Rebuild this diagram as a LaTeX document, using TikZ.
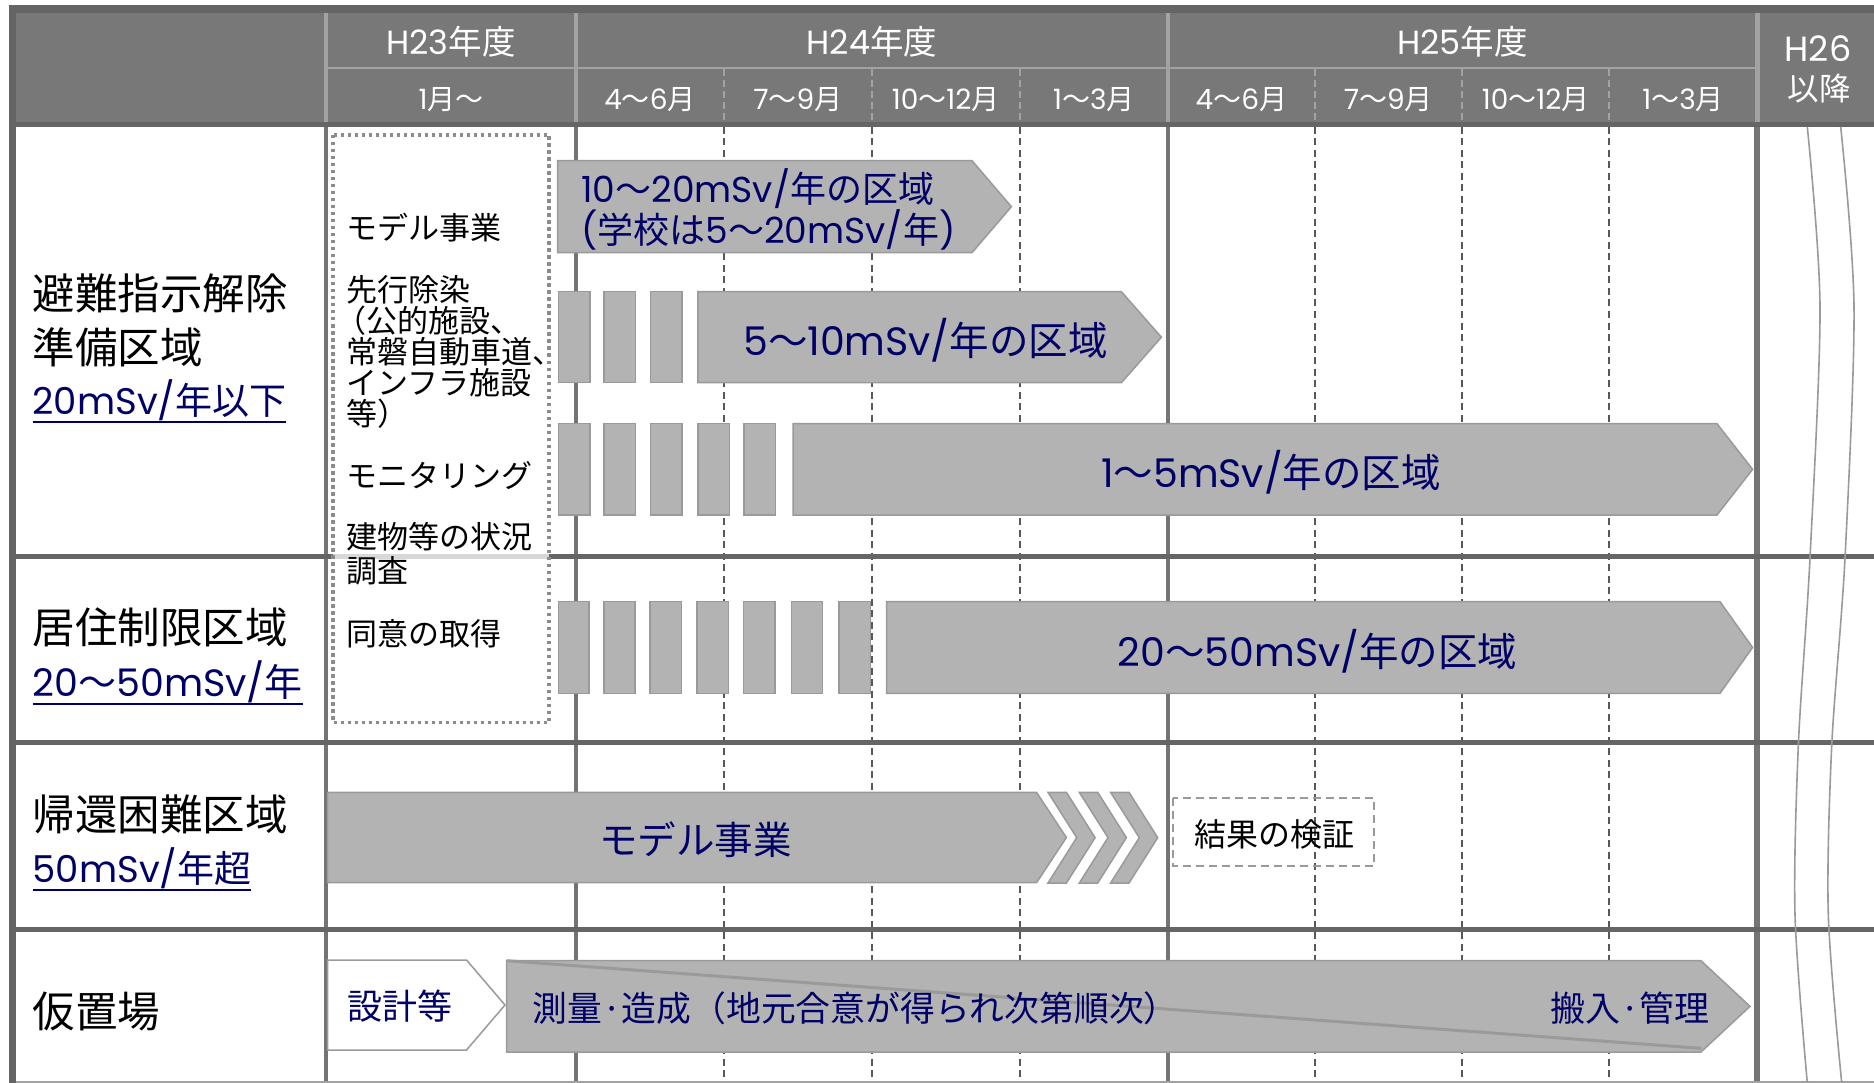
\documentclass[tikz,border=0pt]{standalone}
\usepackage{fontspec}
\setmainfont{Noto Sans CJK JP}
\newfontfamily\lat{Poppins}
\definecolor{hdr}{HTML}{787878}
\definecolor{hdrln}{HTML}{A2A2A2}
\definecolor{frm}{HTML}{656565}
\definecolor{vln}{HTML}{747474}
\definecolor{qln}{HTML}{585858}
\definecolor{afill}{HTML}{B3B3B3}
\definecolor{adraw}{HTML}{9A9A9A}
\definecolor{navy}{HTML}{000066}
\definecolor{dotc}{HTML}{8C8C8C}
\newcommand\myfs[1]{\fontsize{#1}{#1}\selectfont}
\newsavebox\mybx
\newcommand\myul[1]{\sbox\mybx{#1}\rlap{\vrule height -6.5pt depth 8.5pt width \wd\mybx}\usebox\mybx}
\newcommand\pent[6][abox]{\draw[#1] (#2,#5) -- (#3,#5) -- (#4,{(#5+#6)/2}) -- (#3,#6) -- (#2,#6) -- cycle;}
\newcommand\chev[3]{\draw[abox] (#1,#2) -- ({#1+18.4},#2) -- ({#1+47.1},{(#2+#3)/2}) -- ({#1+18.4},#3) -- (#1,#3) -- ({#1+28.7},{(#2+#3)/2}) -- cycle;}
\newcommand\blk[4]{\draw[abox] (#1,#3) rectangle (#2,#4);}
\tikzset{
  sz/.style={font=\myfs{#1}, text height=0.76*#1pt, text depth=0pt, inner sep=0pt},
  wtxt/.style={text=white},
  ntxt/.style={text=navy},
  ktxt/.style={text=black},
  abox/.style={fill=afill, draw=adraw, line width=1.5pt},
  wbox/.style={fill=white, draw=adraw, line width=1.5pt},
  qdash/.style={draw=qln, line width=2pt, dash pattern=on 7pt off 4.5pt},
  brk/.style={draw=adraw, line width=1.6pt},
}
\begin{document}
\begin{tikzpicture}[x=1pt,y=-1pt]
\useasboundingbox (0,0) rectangle (1874,1083);
\fill[white] (0,0) rectangle (1874,1083);
% header
\fill[hdr] (9,5) rectangle (1874,124);
\fill[frm] (9,5) rectangle (1874,13);
\draw[hdrln, line width=2.5pt] (326,68) -- (1757,68);
\foreach \x in {326,576,1168} \draw[hdrln, line width=4pt] (\x,13) -- (\x,122);
\draw[hdrln, line width=5pt] (1757,13) -- (1757,122);
\foreach \x in {724,871.6,1019.6,1314.8,1462,1609.4} \draw[hdrln, line width=2pt, dash pattern=on 7pt off 4pt] (\x,69.5) -- (\x,122);
% body grid
\foreach \x in {724,871.6,1019.6,1314.8,1462,1609.4} \draw[qdash] (\x,127) -- (\x,1083);
\foreach \x in {326,576,1168} \draw[vln, line width=4.5pt] (\x,124) -- (\x,1083);
\draw[vln, line width=5.5pt] (1757,124) -- (1757,1083);
\foreach \y in {124.5,556.7,742.6,929.5} \draw[frm, line width=5pt] (9,\y) -- (1874,\y);
\draw[hdrln, line width=2pt] (9,1082) -- (1874,1082);
\draw[frm, line width=6.5pt] (12.3,5) -- (12.3,1083);
% break lines in H26 column
\draw[brk] plot[smooth] coordinates {(1807.3,127) (1820,307) (1810,558) (1798.3,746) (1795,915) (1807.3,1083)};
\draw[brk] plot[smooth] coordinates {(1840.7,127) (1854,307) (1845,558) (1831.7,746) (1828.3,915) (1841.7,1083)};
% dotted box
\draw[dotc, line width=3.5pt, dash pattern=on 3.5pt off 3.5pt, fill=white, fill opacity=0.75] (333,135) rectangle (549,722.5);
% row 1 arrows
\pent{557.6}{972}{1011.4}{160.7}{252.7}
\blk{558.4}{589.9}{291.7}{382.7}
\blk{604.2}{635.7}{291.7}{382.7}
\blk{650.4}{681.9}{291.7}{382.7}
\pent{697.8}{1121.4}{1161.4}{291.7}{382.7}
\blk{558.4}{589.9}{423.7}{515}
\blk{604.2}{635.7}{423.7}{515}
\blk{650.4}{681.9}{423.7}{515}
\blk{697.8}{729.3}{423.7}{515}
\blk{744}{775.5}{423.7}{515}
\pent{793}{1717}{1752.6}{423.7}{515}
% row 2
\blk{558.4}{589}{601.7}{693.3}
\blk{603.8}{634.8}{601.7}{693.3}
\blk{650}{681.5}{601.7}{693.3}
\blk{697}{728.5}{601.7}{693.3}
\blk{743.6}{775}{601.7}{693.3}
\blk{791.4}{822.5}{601.7}{693.3}
\blk{838.9}{870.3}{601.7}{693.3}
\pent{886.7}{1720}{1752.6}{601.7}{693.3}
% row 3
\pent{327.6}{1036.5}{1066.4}{792.3}{882.7}
\chev{1048}{792.3}{883}
\chev{1079.3}{792.3}{883}
\chev{1110.6}{792.3}{883}
\draw[adraw, line width=2.2pt, dash pattern=on 8pt off 5pt] (1172.7,798.3) rectangle (1374.3,865.7);
% row 4
\pent[wbox]{327.6}{466.5}{505}{960}{1050}
\pent{506.7}{1701}{1750}{960.7}{1052}
\draw[adraw, line width=3pt] (506.7,960.7) -- (1701,1048.3);
% header texts
\node[wtxt, sz=33.5] (y23) at (451,42) {{\lat H23}年度};
\node[wtxt, sz=33.5] (y24) at (872,42) {{\lat H24}年度};
\node[wtxt, sz=33.5] (y25) at (1462.5,42) {{\lat H25}年度};
\node[wtxt, sz=35] (y26) at (1818,48) {\lat H26};
\node[wtxt, sz=31.5] (y26b) at (1819,89) {以降};
\node[wtxt, sz=28] (q0) at (451,99) {{\lat 1}月〜};
\node[wtxt, sz=28] (q1) at (650,99) {{\lat 4}〜{\lat 6}月};
\node[wtxt, sz=28] (q2) at (797.8,99) {{\lat 7}〜{\lat 9}月};
\node[wtxt, sz=28] (q3) at (945.6,99) {{\lat 10}〜{\lat 12}月};
\node[wtxt, sz=28] (q4) at (1093.8,99) {{\lat 1}〜{\lat 3}月};
\node[wtxt, sz=28] (q5) at (1241.4,99) {{\lat 4}〜{\lat 6}月};
\node[wtxt, sz=28] (q6) at (1388.4,99) {{\lat 7}〜{\lat 9}月};
\node[wtxt, sz=28] (q7) at (1535.7,99) {{\lat 10}〜{\lat 12}月};
\node[wtxt, sz=28] (q8) at (1683.2,99) {{\lat 1}〜{\lat 3}月};
% label column
\node[ktxt, sz=42.5, anchor=west] (l1a) at (32.5,293) {避難指示解除};
\node[ktxt, sz=42.5, anchor=west] (l1b) at (32.5,347) {準備区域};
\node[ntxt, sz=37, anchor=west] (l1c) at (32.5,400) {\myul{{\lat 20mSv/}年以下}};
\node[ktxt, sz=42.5, anchor=west] (l2a) at (32.5,627) {居住制限区域};
\node[ntxt, sz=38, anchor=west] (l2b) at (32.5,682) {\myul{{\lat 20}〜{\lat 50mSv/}年}};
\node[ktxt, sz=42.5, anchor=west] (l3a) at (32.5,814) {帰還困難区域};
\node[ntxt, sz=37, anchor=west] (l3b) at (32.5,868) {\myul{{\lat 50mSv/}年超}};
\node[ktxt, sz=42.5, anchor=west] (l4a) at (32.5,1011) {仮置場};
% dotted box texts
\node[ktxt, sz=31, anchor=west] (d1) at (346,227.5) {モデル事業};
\node[ktxt, sz=31, anchor=west] (d2) at (346,290) {先行除染};
\node[ktxt, sz=31, anchor=west] (d3) at (346,321) {\kern-0.33em（公的施設、};
\node[ktxt, sz=31, anchor=west] (d4) at (346,352) {常磐自動車道\rlap{、}};
\node[ktxt, sz=31, anchor=west] (d5) at (346,383) {インフラ施設};
\node[ktxt, sz=31, anchor=west] (d6) at (346,414) {等）};
\node[ktxt, sz=31, anchor=west] (d7) at (346,476) {モニタリング};
\node[ktxt, sz=31, anchor=west] (d8) at (346,537) {建物等の状況};
\node[ktxt, sz=31, anchor=west] (d9) at (346,571) {調査};
\node[ktxt, sz=31, anchor=west] (d10) at (346,634) {同意の取得};
% arrow texts
\node[ntxt, sz=36, anchor=west] (a1a) at (581,189) {{\lat 10}〜{\lat 20mSv/}年の区域};
\node[ntxt, sz=36, anchor=west] (a1b) at (581,230) {{\lat (}学校は{\lat 5}〜{\lat 20mSv/}年{\lat )}};
\node[ntxt, sz=39.5] (a2) at (925.5,340) {{\lat 5}〜{\lat 10mSv/}年の区域};
\node[ntxt, sz=39.5] (a3) at (1271,472) {{\lat 1}〜{\lat 5mSv/}年の区域};
\node[ntxt, sz=39.5] (a4) at (1317.5,651) {{\lat 20}〜{\lat 50mSv/}年の区域};
\node[ntxt, sz=38.5] (a5) at (695.5,840) {モデル事業};
\node[ntxt, sz=35] (a6) at (399.6,1006) {設計等};
\node[ntxt, sz=34.8, anchor=west] (a7) at (532.5,1008) {測量·造成（地元合意が得られ次第順次）};
\node[ntxt, sz=35, anchor=east] (a8) at (1710,1008) {搬入·管理};
\node[ktxt, sz=32] (a9) at (1274,834) {結果の検証};
\end{tikzpicture}
\end{document}
